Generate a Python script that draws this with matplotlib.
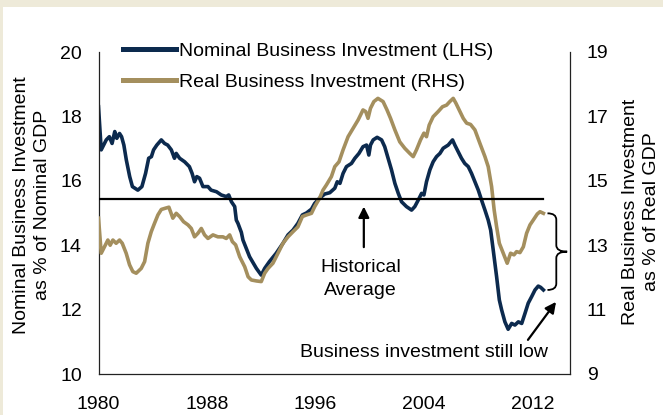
import matplotlib
matplotlib.use("Agg")
import matplotlib.pyplot as plt
from matplotlib.lines import Line2D
from matplotlib.patches import Rectangle, PathPatch
from matplotlib.path import Path

plt.rcParams['font.family'] = ['Liberation Sans', 'DejaVu Sans']

# ---------------- data ----------------
nominal_years = [1980.00, 1980.20, 1980.57, 1980.80, 1981.00, 1981.20, 1981.35, 1981.55, 1981.70, 1981.87,
                 1982.05, 1982.30, 1982.50, 1982.90, 1983.20, 1983.47, 1983.70, 1983.90, 1984.06, 1984.30,
                 1984.63, 1984.87, 1985.10, 1985.37, 1985.60, 1985.73, 1985.98, 1986.35, 1986.70, 1986.90,
                 1987.08, 1987.25, 1987.45, 1987.70, 1988.07, 1988.30, 1988.70, 1989.05, 1989.42, 1989.60,
                 1989.80, 1990.04, 1990.16, 1990.28, 1990.53, 1990.65, 1991.14, 1991.64, 1992.00, 1992.25,
                 1992.60, 1993.10, 1993.60, 1993.97, 1994.34, 1994.70, 1995.03, 1995.33, 1995.70, 1995.94,
                 1996.30, 1996.68, 1997.05, 1997.42, 1997.60, 1997.80, 1998.03, 1998.28, 1998.65, 1998.90,
                 1999.20, 1999.50, 1999.76, 1999.93, 2000.05, 2000.25, 2000.54, 2000.87, 2001.10, 2001.35,
                 2001.60, 2001.85, 2002.10, 2002.34, 2002.70, 2003.08, 2003.32, 2003.57, 2003.82, 2003.99,
                 2004.18, 2004.43, 2004.67, 2004.92, 2005.17, 2005.41, 2005.78, 2006.10, 2006.27, 2006.52,
                 2006.76, 2007.00, 2007.26, 2007.50, 2007.75, 2008.00, 2008.24, 2008.49, 2008.73, 2008.91,
                 2009.10, 2009.35, 2009.55, 2009.72, 2009.96, 2010.20, 2010.46, 2010.70, 2010.95, 2011.20,
                 2011.44, 2011.68, 2011.93, 2012.18, 2012.42, 2012.60, 2012.80]
nominal_values = [18.30, 16.96, 17.27, 17.37, 17.16, 17.53, 17.32, 17.47, 17.37, 17.11,
                  16.65, 16.13, 15.82, 15.71, 15.82, 16.23, 16.70, 16.75, 16.96, 17.11,
                  17.27, 17.16, 17.11, 16.96, 16.70, 16.85, 16.70, 16.59, 16.44, 16.23,
                  15.97, 16.13, 16.08, 15.82, 15.82, 15.71, 15.66, 15.56, 15.51, 15.56,
                  15.35, 15.20, 14.78, 14.68, 14.40, 14.16, 13.64, 13.28, 13.07, 13.28,
                  13.49, 13.75, 14.06, 14.32, 14.47, 14.68, 14.94, 15.00, 15.12, 15.30,
                  15.46, 15.59, 15.63, 15.77, 15.97, 15.92, 16.23, 16.44, 16.54, 16.70,
                  16.85, 17.06, 17.11, 16.80, 17.11, 17.27, 17.35, 17.27, 17.06, 16.70,
                  16.34, 15.92, 15.61, 15.35, 15.20, 15.09, 15.20, 15.40, 15.61, 15.56,
                  15.97, 16.34, 16.59, 16.75, 16.85, 17.01, 17.11, 17.27, 17.11, 16.90,
                  16.70, 16.54, 16.44, 16.23, 15.97, 15.71, 15.40, 15.09, 14.78, 14.47,
                  13.85, 13.02, 12.30, 11.99, 11.62, 11.39, 11.57, 11.52, 11.62, 11.57,
                  11.88, 12.20, 12.40, 12.61, 12.73, 12.69, 12.61]

real_years = [1980.00, 1980.20, 1980.44, 1980.69, 1980.86, 1981.06, 1981.30, 1981.55, 1981.75, 1982.04,
              1982.29, 1982.53, 1982.78, 1983.15, 1983.40, 1983.64, 1983.89, 1984.13, 1984.38, 1984.63,
              1984.94, 1985.19, 1985.48, 1985.73, 1985.98, 1986.27, 1986.60, 1986.84, 1987.08, 1987.33,
              1987.58, 1987.82, 1988.07, 1988.44, 1988.80, 1989.17, 1989.42, 1989.67, 1989.87, 1990.11,
              1990.41, 1990.78, 1991.03, 1991.27, 1991.64, 1992.00, 1992.25, 1992.50, 1992.86, 1993.23,
              1993.60, 1993.97, 1994.34, 1994.70, 1995.03, 1995.33, 1995.70, 1995.94, 1996.30, 1996.55,
              1996.80, 1997.17, 1997.42, 1997.73, 1998.03, 1998.40, 1998.77, 1999.14, 1999.50, 1999.70,
              1999.87, 2000.05, 2000.30, 2000.60, 2000.98, 2001.27, 2001.53, 2001.85, 2002.21, 2002.58,
              2002.95, 2003.20, 2003.44, 2003.74, 2003.99, 2004.18, 2004.38, 2004.67, 2005.04, 2005.36,
              2005.66, 2005.90, 2006.15, 2006.35, 2006.59, 2006.89, 2007.14, 2007.43, 2007.75, 2008.12,
              2008.49, 2008.73, 2008.98, 2009.17, 2009.35, 2009.55, 2009.84, 2010.13, 2010.38, 2010.63,
              2010.82, 2011.07, 2011.32, 2011.56, 2011.81, 2012.05, 2012.35, 2012.55, 2012.80]
real_values = [13.84, 12.75, 12.95, 13.16, 13.00, 13.16, 13.06, 13.16, 13.06, 12.75,
               12.39, 12.18, 12.13, 12.28, 12.49, 13.06, 13.42, 13.68, 13.94, 14.11,
               14.15, 14.18, 13.84, 13.99, 13.89, 13.73, 13.63, 13.52, 13.26, 13.37,
               13.52, 13.32, 13.21, 13.32, 13.26, 13.26, 13.21, 13.32, 13.11, 13.01,
               12.64, 12.33, 12.02, 11.92, 11.89, 11.87, 12.13, 12.28, 12.44, 12.75,
               13.06, 13.26, 13.42, 13.57, 13.89, 13.94, 13.99, 14.20, 14.46, 14.71,
               14.87, 15.13, 15.44, 15.59, 15.96, 16.37, 16.63, 16.89, 17.20, 17.15,
               16.94, 17.25, 17.46, 17.56, 17.46, 17.20, 16.94, 16.58, 16.21, 16.01,
               15.85, 15.75, 15.96, 16.27, 16.48, 16.37, 16.73, 16.99, 17.15, 17.30,
               17.35, 17.46, 17.56, 17.41, 17.20, 16.94, 16.79, 16.75, 16.58, 16.16,
               15.75, 15.44, 14.82, 14.09, 13.57, 13.06, 12.75, 12.44, 12.75, 12.70,
               12.80, 12.77, 12.95, 13.37, 13.63, 13.78, 13.97, 14.04, 13.99]

historical_average = 15.43          # LHS units
x_ticks = [1980, 1988, 1996, 2004, 2012]
left_ticks = [10, 12, 14, 16, 18, 20]
right_ticks = [9, 11, 13, 15, 17, 19]
legend_labels = ["Nominal Business Investment (LHS)", "Real Business Investment (RHS)"]
left_label = "Nominal Business Investment\nas % of Nominal GDP"
right_label = "Real Business Investment\nas % of Real GDP"
avg_text = "Historical\nAverage"
low_text = "Business investment still low"

# ---------------- style ----------------
NAVY = "#0C2A4E"
TAN = "#A48F5E"
BEIGE = "#EEEAD9"
FS = 14

W, H = 663, 415
fig = plt.figure(figsize=(W / 100, H / 100), dpi=100)
fig.patch.set_facecolor("white")
fig.patches.append(Rectangle((0, 1 - 7 / H), 1, 7 / H, transform=fig.transFigure,
                             facecolor=BEIGE, edgecolor="none", zorder=0))
fig.patches.append(Rectangle((0, 0), 3 / W, 1, transform=fig.transFigure,
                             facecolor=BEIGE, edgecolor="none", zorder=0))

L, R, T, B = 98.5, 570, 52, 374
ax = fig.add_axes([L / W, 1 - B / H, (R - L) / W, (B - T) / H])
ax2 = ax.twinx()
ax.patch.set_alpha(0)

ax.plot(nominal_years, nominal_values, color=NAVY, lw=2.6, solid_joinstyle="round")
ax2.plot(real_years, real_values, color=TAN, lw=2.6, solid_joinstyle="round")

# historical average line (drawn above both series)
ax2.plot([nominal_years[0], nominal_years[-1]], [historical_average, historical_average],
         color="black", lw=1.6, transform=ax.transData, zorder=5)

ax.set_xlim(1980, 2014.76)
ax.set_ylim(10, 20)
ax2.set_ylim(9, 19)
ax.set_xticks(x_ticks)
ax.set_xticklabels([str(t) for t in x_ticks])
ax.set_yticks(left_ticks)
ax2.set_yticks(right_ticks)

for a in (ax, ax2):
    a.spines["top"].set_visible(False)
    for s in a.spines.values():
        s.set_linewidth(0.9)
        s.set_color("#222222")
ax2.spines["left"].set_visible(False)
ax2.spines["bottom"].set_visible(False)
ax.spines["right"].set_visible(False)

ax.tick_params(axis="y", length=0, labelsize=FS, pad=12)
ax.tick_params(axis="x", length=0, labelsize=FS, pad=16)
ax2.tick_params(axis="y", length=0, labelsize=FS, pad=12)

# legend
h1 = Line2D([], [], color=NAVY, lw=3.6)
h2 = Line2D([], [], color=TAN, lw=3.6)
leg = ax2.legend([h1, h2], legend_labels, loc="upper left",
                 bbox_to_anchor=(123 / W, 1 - 42 / H), bbox_transform=fig.transFigure,
                 frameon=False, fontsize=FS, handlelength=2.75, handletextpad=0.12,
                 labelspacing=0.72, borderpad=0, borderaxespad=0)

# axis titles
fig.text(32 / W, 1 - 205 / H, left_label, rotation=90, ha="center", va="center",
         multialignment="center", fontsize=FS, linespacing=1.25)
fig.text(641 / W, 1 - 212 / H, right_label, rotation=90, ha="center", va="center",
         multialignment="center", fontsize=FS, linespacing=1.25)

# historical average annotation
ax.annotate("", xy=(1999.56, 15.2), xytext=(1999.56, 13.94),
            arrowprops=dict(arrowstyle="-|>", color="black", lw=1.6, mutation_scale=16,
                            shrinkA=0, shrinkB=0))
ax.text(1999.3, 12.95, avg_text, ha="center", va="center", fontsize=FS, linespacing=1.5)

# still-low annotation
ax.annotate("", xy=(2013.73, 12.24), xytext=(2011.66, 11.06),
            arrowprops=dict(arrowstyle="-|>", color="black", lw=1.6, mutation_scale=16,
                            shrinkA=0, shrinkB=0))
ax.text(2004.0, 10.68, low_text, ha="center", va="center", fontsize=FS)

# brace between the latest values of the two series (in LHS units)
y_top = real_values[-1] + 1.0
y_bot = nominal_values[-1]
y_mid = (y_top + y_bot) / 2
x0, x1, xt = 2013.1, 2013.75, 2014.55
r = 0.2
verts = [(x0, y_top), (x1, y_top), (x1, y_top - r),
         (x1, y_mid + r), (x1, y_mid), (xt, y_mid),
         (x1, y_mid), (x1, y_mid - r),
         (x1, y_bot + r), (x1, y_bot), (x0, y_bot)]
codes = [Path.MOVETO, Path.CURVE3, Path.CURVE3,
         Path.LINETO, Path.CURVE3, Path.CURVE3,
         Path.CURVE3, Path.CURVE3,
         Path.LINETO, Path.CURVE3, Path.CURVE3]
ax.add_patch(PathPatch(Path(verts, codes), facecolor="none", edgecolor="black", lw=1.3,
                       clip_on=False))

fig.savefig("out.png", dpi=100)
